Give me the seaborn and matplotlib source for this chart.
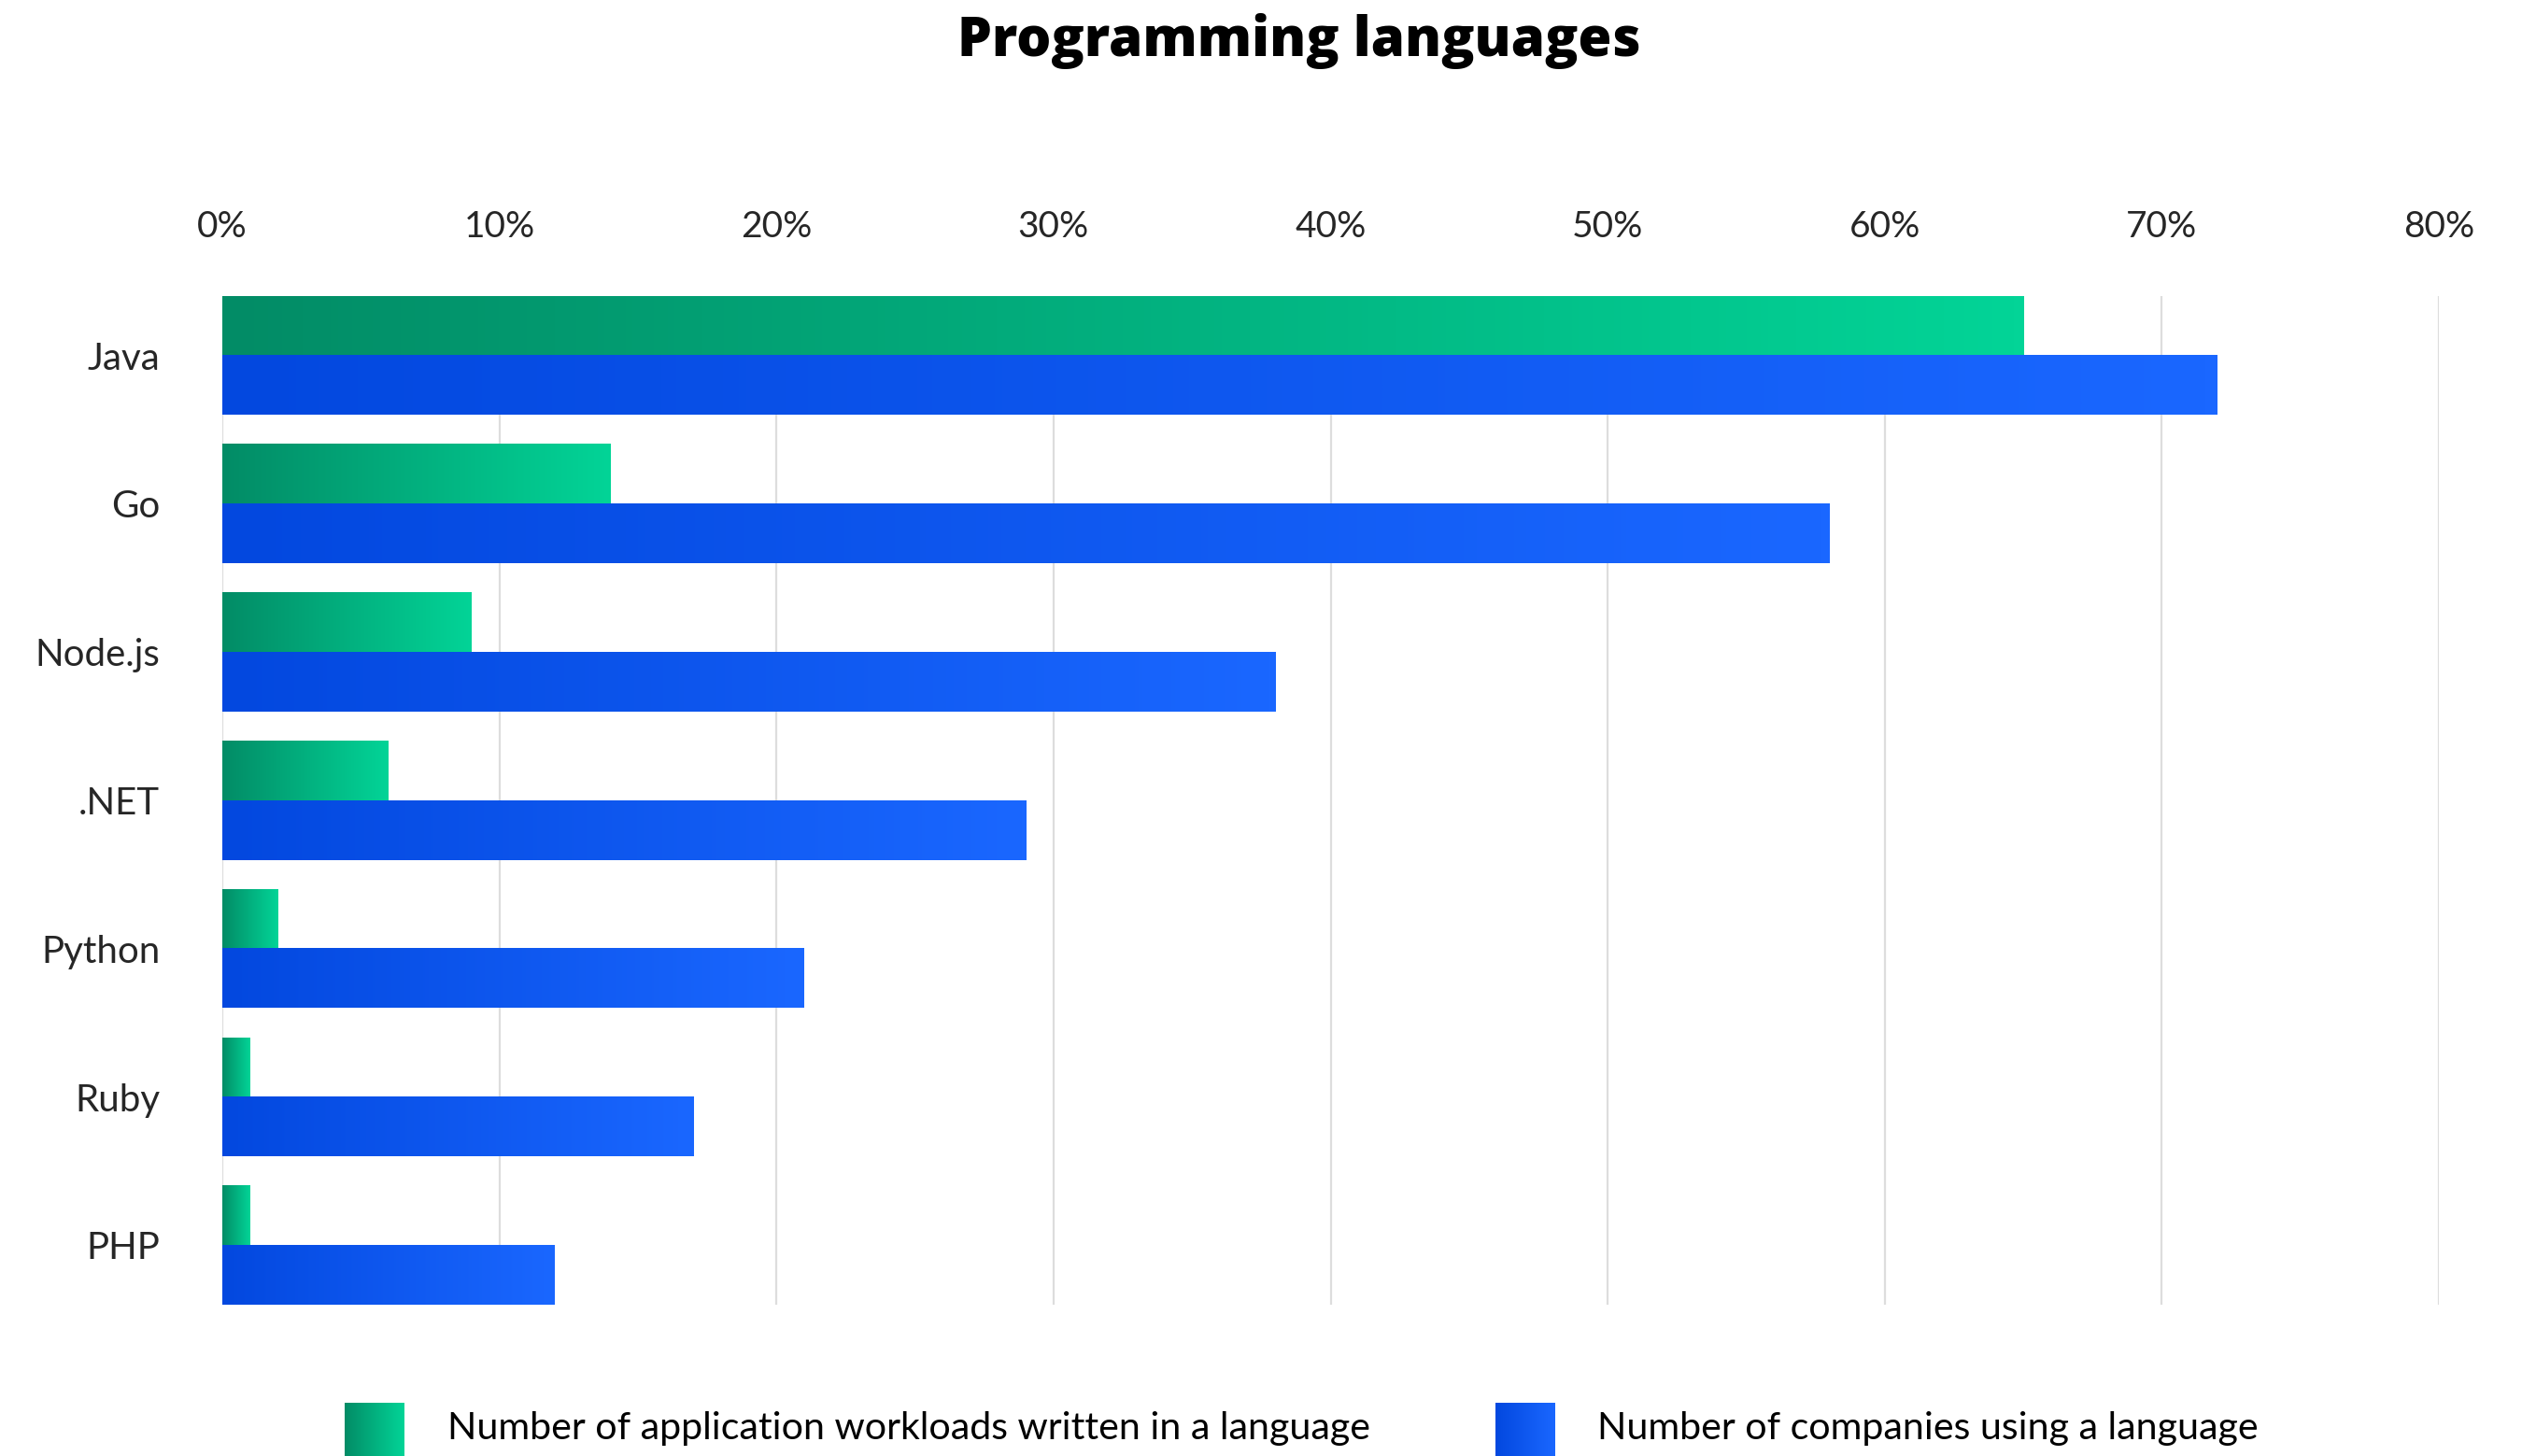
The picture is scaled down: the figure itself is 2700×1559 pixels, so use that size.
import numpy as np
import pandas as pd
import matplotlib
matplotlib.use("Agg")
import matplotlib.pyplot as plt
from matplotlib.colors import LinearSegmentedColormap
from matplotlib.ticker import FuncFormatter
import seaborn as sns

# Share of workloads / companies per programming language (%)
languages = ["Java", "Go", "Node.js", ".NET", "Python", "Ruby", "PHP"]
workloads = [65, 14, 9, 6, 2, 1, 1]
companies = [72, 58, 38, 29, 21, 17, 12]
series_names = ["Number of application workloads written in a language",
                "Number of companies using a language"]
x_ticks = [0, 10, 20, 30, 40, 50, 60, 70, 80]

green_grad = LinearSegmentedColormap.from_list("green_grad", ["#028C66", "#03D497"])
blue_grad = LinearSegmentedColormap.from_list("blue_grad", ["#0348DF", "#1A67FF"])
grads = [green_grad, blue_grad]

df = pd.DataFrame({
    "language": languages * 2,
    "share": workloads + companies,
    "series": [series_names[0]] * len(languages) + [series_names[1]] * len(languages),
})

sns.set_theme(style="white")
plt.rcParams["font.family"] = ["Lato", "DejaVu Sans"]

fig = plt.figure(figsize=(13.5, 7.795), dpi=200)
ax = fig.add_axes([238 / 2700, 1 - 1397 / 1559, (2611 - 238) / 2700, (1397 - 317) / 1559])

sns.barplot(data=df, y="language", x="share", hue="series", orient="h",
            palette=["#03B07E", "#0E57F0"], width=0.8, legend=False,
            order=languages, hue_order=series_names, ax=ax)

# replace the flat fills with left-to-right gradients
ramp = np.linspace(0, 1, 256).reshape(1, -1)
for cont, cmap in zip(ax.containers, grads):
    for patch in cont.patches:
        x0, y0 = patch.get_x(), patch.get_y()
        w, h = patch.get_width(), patch.get_height()
        ax.imshow(ramp, cmap=cmap, extent=(x0, x0 + w, y0 + h, y0),
                  aspect="auto", interpolation="bilinear", zorder=2)
        patch.set_visible(False)

ax.set_xlim(0, 80)
ax.set_ylim(len(languages) - 0.6, -0.4)
ax.set_xticks(x_ticks)
ax.xaxis.set_major_formatter(FuncFormatter(lambda v, _: f"{v:.0f}%"))
ax.xaxis.tick_top()
ax.tick_params(axis="x", length=0, pad=20, labelsize=14)
ax.tick_params(axis="y", length=0, pad=24, labelsize=14.5)
ax.grid(axis="x", color="#DDDDDD", linewidth=0.8)
ax.grid(axis="y", visible=False)
ax.set_axisbelow(True)
for s in ax.spines.values():
    s.set_visible(False)
ax.set_xlabel("")
ax.set_ylabel("")

fig.text(0.515, 1 - 44 / 1559, "Programming languages", ha="center", va="center",
         fontsize=21, fontweight=800, color="black",
         family=["Open Sans", "Lato", "DejaVu Sans"])

# legend: gradient squares with labels
legend_items = [(369, 479), (1601, 1710)]
for (sq_x, tx_x), cmap, name in zip(legend_items, grads, series_names):
    lax = fig.add_axes([sq_x / 2700, 1 - 1566 / 1559, 64 / 2700, 64 / 1559])
    lax.imshow(ramp, cmap=cmap, aspect="auto", interpolation="bilinear")
    lax.set_axis_off()
    fig.text(tx_x / 2700, 1 - 1530 / 1559, name, ha="left", va="center",
             fontsize=14.8, color="black")

fig.savefig("out.png", dpi=200, facecolor="white")
